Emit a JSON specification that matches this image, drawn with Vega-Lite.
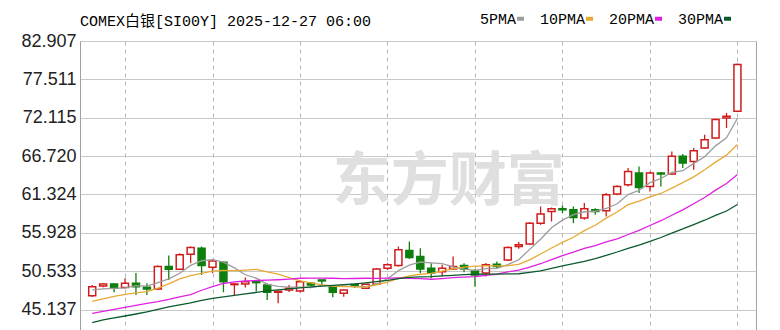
{
  "$schema": "https://vega.github.io/schema/vega-lite/v6.json",
  "width": 676,
  "height": 289,
  "autosize": {"type": "none"},
  "padding": {"left": 80, "top": 41, "right": 24, "bottom": 0},
  "background": "white",
  "title": {
    "text": "COMEX白银[SI00Y] 2025-12-27 06:00",
    "anchor": "start",
    "frame": "group",
    "font": "Liberation Mono, Noto Sans CJK SC",
    "fontSize": 15,
    "fontWeight": "normal",
    "color": "#000000",
    "offset": 12,
    "dy": 30
  },
  "data": {
    "values": [
      {"i":0,"o":47.09,"h":48.60,"l":46.91,"c":48.36,"5PMA":47.90,"10PMA":46.27,"20PMA":44.61,"30PMA":43.31},
      {"i":1,"o":48.46,"h":48.84,"l":48.28,"c":48.74,"5PMA":48.04,"10PMA":46.63,"20PMA":44.87,"30PMA":43.67},
      {"i":2,"o":48.74,"h":48.84,"l":47.57,"c":48.14,"5PMA":48.11,"10PMA":46.98,"20PMA":45.15,"30PMA":43.95},
      {"i":3,"o":48.22,"h":49.55,"l":48.14,"c":48.84,"5PMA":48.18,"10PMA":47.26,"20PMA":45.43,"30PMA":44.23},
      {"i":4,"o":48.84,"h":50.26,"l":47.19,"c":48.36,"5PMA":48.49,"10PMA":47.47,"20PMA":45.71,"30PMA":44.51},
      {"i":5,"o":48.28,"h":48.84,"l":47.19,"c":48.04,"5PMA":48.42,"10PMA":47.66,"20PMA":45.99,"30PMA":44.80},
      {"i":6,"o":48.04,"h":51.32,"l":47.90,"c":51.18,"5PMA":48.91,"10PMA":48.14,"20PMA":46.25,"30PMA":45.15},
      {"i":7,"o":51.18,"h":52.73,"l":49.30,"c":50.81,"5PMA":49.45,"10PMA":48.74,"20PMA":46.56,"30PMA":45.50},
      {"i":8,"o":50.81,"h":53.07,"l":50.71,"c":52.83,"5PMA":50.24,"10PMA":49.45,"20PMA":46.91,"30PMA":45.78},
      {"i":9,"o":52.93,"h":54.00,"l":51.66,"c":53.86,"5PMA":51.34,"10PMA":49.92,"20PMA":47.25,"30PMA":46.07},
      {"i":10,"o":53.77,"h":54.00,"l":50.01,"c":51.32,"5PMA":52.00,"10PMA":50.21,"20PMA":47.85,"30PMA":46.42},
      {"i":11,"o":51.09,"h":52.26,"l":50.26,"c":51.98,"5PMA":52.16,"10PMA":50.54,"20PMA":48.35,"30PMA":46.70},
      {"i":12,"o":51.80,"h":51.88,"l":47.57,"c":49.06,"5PMA":51.81,"10PMA":50.63,"20PMA":48.80,"30PMA":46.91},
      {"i":13,"o":48.64,"h":48.88,"l":47.05,"c":48.74,"5PMA":50.99,"10PMA":50.62,"20PMA":49.02,"30PMA":47.12},
      {"i":14,"o":48.74,"h":49.63,"l":48.22,"c":49.06,"5PMA":50.03,"10PMA":50.69,"20PMA":49.15,"30PMA":47.33},
      {"i":15,"o":49.06,"h":49.06,"l":47.66,"c":48.92,"5PMA":49.55,"10PMA":50.78,"20PMA":49.22,"30PMA":47.54},
      {"i":16,"o":48.60,"h":48.84,"l":46.49,"c":47.57,"5PMA":48.67,"10PMA":50.42,"20PMA":49.27,"30PMA":47.76},
      {"i":17,"o":47.57,"h":47.76,"l":46.02,"c":47.71,"5PMA":48.40,"10PMA":50.11,"20PMA":49.33,"30PMA":47.90},
      {"i":18,"o":47.90,"h":48.60,"l":47.61,"c":48.14,"5PMA":48.28,"10PMA":49.64,"20PMA":49.42,"30PMA":48.04},
      {"i":19,"o":47.76,"h":49.30,"l":47.57,"c":49.06,"5PMA":48.28,"10PMA":49.16,"20PMA":49.54,"30PMA":48.18},
      {"i":20,"o":48.84,"h":48.98,"l":48.46,"c":48.60,"5PMA":48.22,"10PMA":48.88,"20PMA":49.55,"30PMA":48.32},
      {"i":21,"o":49.30,"h":49.30,"l":48.60,"c":49.16,"5PMA":48.53,"10PMA":48.60,"20PMA":49.57,"30PMA":48.42},
      {"i":22,"o":48.36,"h":48.46,"l":46.87,"c":47.57,"5PMA":48.51,"10PMA":48.45,"20PMA":49.54,"30PMA":48.53},
      {"i":23,"o":47.43,"h":48.00,"l":46.95,"c":47.90,"5PMA":48.46,"10PMA":48.37,"20PMA":49.49,"30PMA":48.64},
      {"i":24,"o":48.67,"h":48.74,"l":48.18,"c":48.53,"5PMA":48.35,"10PMA":48.32,"20PMA":49.50,"30PMA":48.74},
      {"i":25,"o":48.14,"h":48.74,"l":48.04,"c":48.70,"5PMA":48.37,"10PMA":48.29,"20PMA":49.54,"30PMA":48.88},
      {"i":26,"o":48.70,"h":50.99,"l":48.60,"c":50.85,"5PMA":48.71,"10PMA":48.62,"20PMA":49.52,"30PMA":49.05},
      {"i":27,"o":50.95,"h":51.66,"l":50.71,"c":51.42,"5PMA":49.48,"10PMA":48.99,"20PMA":49.55,"30PMA":49.25},
      {"i":28,"o":51.32,"h":54.00,"l":51.18,"c":53.53,"5PMA":50.61,"10PMA":49.53,"20PMA":49.58,"30PMA":49.50},
      {"i":29,"o":53.43,"h":54.70,"l":52.26,"c":52.45,"5PMA":51.39,"10PMA":49.87,"20PMA":49.51,"30PMA":49.65},
      {"i":30,"o":52.59,"h":53.77,"l":50.26,"c":50.85,"5PMA":51.82,"10PMA":50.10,"20PMA":49.49,"30PMA":49.73},
      {"i":31,"o":50.95,"h":51.66,"l":49.55,"c":50.26,"5PMA":51.70,"10PMA":50.21,"20PMA":49.40,"30PMA":49.78},
      {"i":32,"o":50.47,"h":51.42,"l":49.77,"c":50.95,"5PMA":51.61,"10PMA":50.54,"20PMA":49.50,"30PMA":49.88},
      {"i":33,"o":50.85,"h":52.59,"l":50.71,"c":51.18,"5PMA":51.14,"10PMA":50.87,"20PMA":49.62,"30PMA":49.95},
      {"i":34,"o":51.32,"h":51.66,"l":50.39,"c":50.85,"5PMA":50.82,"10PMA":51.10,"20PMA":49.71,"30PMA":50.04},
      {"i":35,"o":50.57,"h":50.85,"l":48.36,"c":50.01,"5PMA":50.65,"10PMA":51.24,"20PMA":49.76,"30PMA":50.10},
      {"i":36,"o":50.26,"h":51.70,"l":49.77,"c":51.42,"5PMA":50.88,"10PMA":51.29,"20PMA":49.96,"30PMA":50.11},
      {"i":37,"o":51.52,"h":51.88,"l":50.85,"c":51.18,"5PMA":50.93,"10PMA":51.27,"20PMA":50.13,"30PMA":50.12},
      {"i":38,"o":52.12,"h":54.00,"l":51.98,"c":53.86,"5PMA":51.46,"10PMA":51.30,"20PMA":50.42,"30PMA":50.16},
      {"i":39,"o":54.00,"h":54.62,"l":53.67,"c":54.24,"5PMA":52.14,"10PMA":51.48,"20PMA":50.68,"30PMA":50.17},
      {"i":40,"o":54.34,"h":57.43,"l":54.24,"c":57.29,"5PMA":53.60,"10PMA":52.12,"20PMA":51.11,"30PMA":50.37},
      {"i":41,"o":57.29,"h":59.63,"l":57.05,"c":58.56,"5PMA":55.03,"10PMA":52.95,"20PMA":51.58,"30PMA":50.59},
      {"i":42,"o":58.93,"h":59.49,"l":57.52,"c":59.31,"5PMA":56.65,"10PMA":53.79,"20PMA":52.17,"30PMA":50.93},
      {"i":43,"o":59.31,"h":59.77,"l":58.70,"c":59.17,"5PMA":57.71,"10PMA":54.59,"20PMA":52.73,"30PMA":51.28},
      {"i":44,"o":59.17,"h":59.63,"l":57.29,"c":58.08,"5PMA":58.48,"10PMA":55.31,"20PMA":53.21,"30PMA":51.58},
      {"i":45,"o":58.00,"h":60.11,"l":57.76,"c":59.31,"5PMA":58.89,"10PMA":56.24,"20PMA":53.74,"30PMA":51.92},
      {"i":46,"o":59.17,"h":59.40,"l":58.46,"c":58.93,"5PMA":58.96,"10PMA":56.99,"20PMA":54.14,"30PMA":52.30},
      {"i":47,"o":59.03,"h":61.52,"l":58.22,"c":61.28,"5PMA":59.35,"10PMA":58.00,"20PMA":54.64,"30PMA":52.75},
      {"i":48,"o":61.38,"h":62.62,"l":61.21,"c":62.45,"5PMA":60.01,"10PMA":58.86,"20PMA":55.08,"30PMA":53.23},
      {"i":49,"o":62.69,"h":65.04,"l":62.45,"c":64.56,"5PMA":61.31,"10PMA":59.89,"20PMA":55.69,"30PMA":53.75},
      {"i":50,"o":64.34,"h":65.27,"l":61.52,"c":62.31,"5PMA":61.91,"10PMA":60.40,"20PMA":56.26,"30PMA":54.21},
      {"i":51,"o":62.45,"h":64.56,"l":61.74,"c":64.34,"5PMA":62.99,"10PMA":60.97,"20PMA":56.96,"30PMA":54.71},
      {"i":52,"o":64.34,"h":64.48,"l":62.45,"c":64.20,"5PMA":63.57,"10PMA":61.46,"20PMA":57.63,"30PMA":55.27},
      {"i":53,"o":64.20,"h":67.38,"l":64.10,"c":66.68,"5PMA":64.42,"10PMA":62.21,"20PMA":58.40,"30PMA":55.89},
      {"i":54,"o":66.68,"h":67.02,"l":65.04,"c":65.75,"5PMA":64.66,"10PMA":62.98,"20PMA":59.15,"30PMA":56.47},
      {"i":55,"o":65.97,"h":67.86,"l":64.80,"c":67.48,"5PMA":65.69,"10PMA":63.80,"20PMA":60.02,"30PMA":57.09},
      {"i":56,"o":67.86,"h":69.73,"l":67.76,"c":69.03,"5PMA":66.63,"10PMA":64.81,"20PMA":60.90,"30PMA":57.70},
      {"i":57,"o":69.27,"h":71.99,"l":69.17,"c":71.85,"5PMA":68.16,"10PMA":65.87,"20PMA":61.93,"30PMA":58.38},
      {"i":58,"o":72.09,"h":72.79,"l":70.68,"c":72.31,"5PMA":69.28,"10PMA":66.85,"20PMA":62.86,"30PMA":59.00},
      {"i":59,"o":73.02,"h":79.74,"l":72.90,"c":79.60,"5PMA":72.05,"10PMA":68.36,"20PMA":64.12,"30PMA":59.91}
    ]
  },
  "encoding": {
    "x": {
      "field": "i",
      "type": "quantitative",
      "title": null,
      "scale": {"domain": [-0.66, 60.24], "nice": false, "zero": false},
      "axis": {
        "values": [3, 11, 19, 27, 35, 43, 51, 59],
        "grid": true,
        "gridDash": [4, 4],
        "gridColor": "#b4b4b4",
        "gridWidth": 1,
        "labels": false,
        "ticks": false,
        "domain": false
      }
    }
  },
  "layer": [
    {
      "transform": [{"filter": "datum.i == 29"}],
      "mark": {"type": "text", "text": "东方财富", "font": "Noto Sans CJK SC", "fontSize": 58, "fontWeight": "bold", "color": "#dfdfdf", "align": "center", "baseline": "middle"},
      "encoding": {
        "x": {"datum": 32.6, "type": "quantitative"},
        "y": {"datum": 62.97, "type": "quantitative", "scale": {"domain": [42.26, 82.907], "nice": false, "zero": false}, "title": null,
          "axis": {
            "values": [45.137, 50.533, 55.928, 61.324, 66.72, 72.115, 77.511, 82.907],
            "format": ".3f",
            "grid": true,
            "gridColor": "#c8c8c8",
            "gridWidth": 1.2,
            "ticks": false,
            "domain": true,
            "domainColor": "#a0a0a0",
            "labelFont": "Liberation Sans",
            "labelFontSize": 18,
            "labelColor": "#222222",
            "labelPadding": 4,
            "labelOverlap": false,
            "labelFlush": false
          }
        }
      }
    },
    {
      "mark": {"type": "rule", "strokeWidth": 1.3},
      "encoding": {
        "y": {"field": "l", "type": "quantitative", "scale": {"domain": [42.26, 82.907], "nice": false, "zero": false}, "title": null},
        "y2": {"field": "h"},
        "color": {"condition": {"test": "datum.c >= datum.o", "value": "#d01c1c"}, "value": "#0d7f0d"}
      }
    },
    {
      "mark": {"type": "bar", "width": 7, "strokeWidth": 1.5},
      "encoding": {
        "y": {"field": "o", "type": "quantitative", "scale": {"domain": [42.26, 82.907], "nice": false, "zero": false}, "title": null},
        "y2": {"field": "c"},
        "fill": {"condition": {"test": "datum.c >= datum.o", "value": "#ffffff"}, "value": "#0d7f0d"},
        "stroke": {"condition": {"test": "datum.c >= datum.o", "value": "#d01c1c"}, "value": "#0d7f0d"}
      }
    },
    {
      "transform": [{"fold": ["5PMA", "10PMA", "20PMA", "30PMA"], "as": ["series", "ma"]}],
      "mark": {"type": "line", "strokeWidth": 1.3},
      "encoding": {
        "y": {"field": "ma", "type": "quantitative", "scale": {"domain": [42.26, 82.907], "nice": false, "zero": false}, "title": null},
        "color": {
          "field": "series",
          "type": "nominal",
          "scale": {"domain": ["5PMA", "10PMA", "20PMA", "30PMA"], "range": ["#9c9c9c", "#e6aa34", "#e020e0", "#0b5a2c"]},
          "legend": {
            "title": null,
            "orient": "none",
            "legendX": 433,
            "legendY": -30,
            "direction": "horizontal",
            "symbolType": "stroke",
            "symbolStrokeWidth": 4,
            "symbolSize": 50,
            "labelAlign": "right",
            "labelOffset": -12,
            "labelFont": "Liberation Mono",
            "labelFontSize": 15,
            "labelColor": "#000000",
            "columnPadding": 6
          }
        }
      }
    }
  ],
  "config": {
    "view": {"stroke": "#a0a0a0", "strokeWidth": 1}
  }
}
